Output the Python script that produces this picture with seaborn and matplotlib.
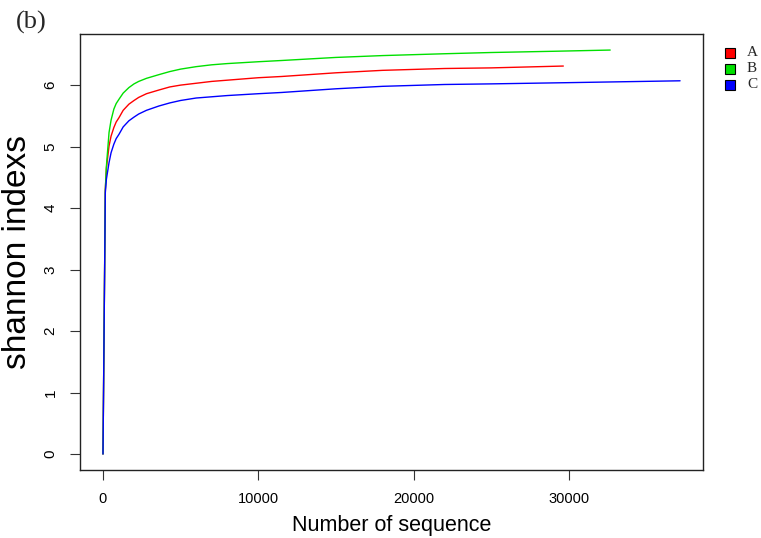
import matplotlib
matplotlib.use("Agg")
import matplotlib.pyplot as plt
import pandas as pd
import seaborn as sns
from matplotlib.patches import Rectangle

# rarefaction data (number of sequences vs shannon index)
seq_A = [0, 150, 220, 390, 520, 700, 850, 1030, 1300, 1670, 2000, 2300,
         2800, 3600, 4300, 5000, 6000, 7000, 8000, 10000, 11500, 15000,
         18000, 22000, 25000, 29650]
shannon_A = [0, 4.30, 4.65, 5.01, 5.17, 5.31, 5.40, 5.47, 5.59, 5.69, 5.75,
             5.80, 5.86, 5.92, 5.97, 6.00, 6.03, 6.06, 6.08, 6.12, 6.14,
             6.20, 6.24, 6.27, 6.28, 6.31]

seq_B = [0, 150, 220, 390, 520, 700, 850, 1030, 1300, 1670, 2000, 2300,
         2800, 3600, 4300, 5000, 6000, 7000, 8000, 10000, 11500, 15000,
         18000, 22000, 25000, 29000, 32670]
shannon_B = [0, 4.30, 4.68, 5.23, 5.43, 5.61, 5.70, 5.77, 5.87, 5.96, 6.02,
             6.06, 6.11, 6.17, 6.22, 6.26, 6.30, 6.33, 6.35, 6.38, 6.40,
             6.45, 6.48, 6.51, 6.53, 6.55, 6.57]

seq_C = [0, 150, 220, 390, 520, 700, 850, 1030, 1300, 1670, 2000, 2300,
         2800, 3600, 4300, 5000, 6000, 7000, 8000, 10000, 11500, 15000,
         18000, 22000, 25000, 30000, 37170]
shannon_C = [0, 4.25, 4.47, 4.74, 4.90, 5.04, 5.13, 5.20, 5.32, 5.42, 5.48,
             5.53, 5.59, 5.66, 5.71, 5.75, 5.79, 5.81, 5.83, 5.86, 5.88,
             5.94, 5.98, 6.01, 6.02, 6.04, 6.07]

samples = ["A", "B", "C"]
colors = ["#ff0000", "#00e000", "#0000ff"]

df = pd.concat([
    pd.DataFrame({"seq": seq_A, "shannon": shannon_A, "sample": "A"}),
    pd.DataFrame({"seq": seq_B, "shannon": shannon_B, "sample": "B"}),
    pd.DataFrame({"seq": seq_C, "shannon": shannon_C, "sample": "C"}),
])

sns.set_style("white")
plt.rcParams["font.family"] = ["Liberation Sans", "DejaVu Sans"]

fig = plt.figure(figsize=(7.61, 5.38), dpi=100)
ax = fig.add_axes([0.105, 0.126, 0.819, 0.811])

sns.lineplot(data=df, x="seq", y="shannon", hue="sample", palette=colors,
             estimator=None, sort=False, linewidth=1.0, legend=False, ax=ax)

# R-style 4% padding on both axes
xmax = df["seq"].max()
ymax = df["shannon"].max()
ax.set_xlim(-0.04 * xmax, 1.04 * xmax)
ax.set_ylim(-0.04 * ymax, 1.04 * ymax)

ax.set_xticks([0, 10000, 20000, 30000])
ax.set_yticks(range(0, 7))
ax.tick_params(axis="both", direction="out", length=7, width=0.8,
               color="#333333", labelcolor="black", labelsize=10.5,
               left=True, bottom=True)
ax.tick_params(axis="x", pad=9)
ax.tick_params(axis="y", pad=9, labelsize=11)
for lab in ax.get_yticklabels():
    lab.set_rotation(90)
    lab.set_va("center")

for sp in ax.spines.values():
    sp.set_visible(True)
    sp.set_color("#222222")
    sp.set_linewidth(1.0)

ax.set_xlabel("Number of sequence", fontsize=15.5, color="black", labelpad=6)
ax.set_ylabel("shannon indexs", fontsize=24, color="black", labelpad=8)

fig.text(0.041, 0.958, "(b)", fontsize=19, ha="center", va="center",
         family=["Liberation Serif", "DejaVu Serif"])

# legend: filled squares with black edges, outside the plot on the right
for i, (name, col) in enumerate(zip(samples, colors)):
    yc = 1 - (53 + 16 * i) / 538
    fig.patches.append(Rectangle((725 / 761, yc - 5 / 538), 10 / 761, 10 / 538,
                                 transform=fig.transFigure, facecolor=col,
                                 edgecolor="black", linewidth=0.8))
    fig.text(747 / 761, yc, name, fontsize=11, va="center", ha="left",
             family=["Liberation Serif", "DejaVu Serif"])

fig.savefig("out.png", dpi=100)
